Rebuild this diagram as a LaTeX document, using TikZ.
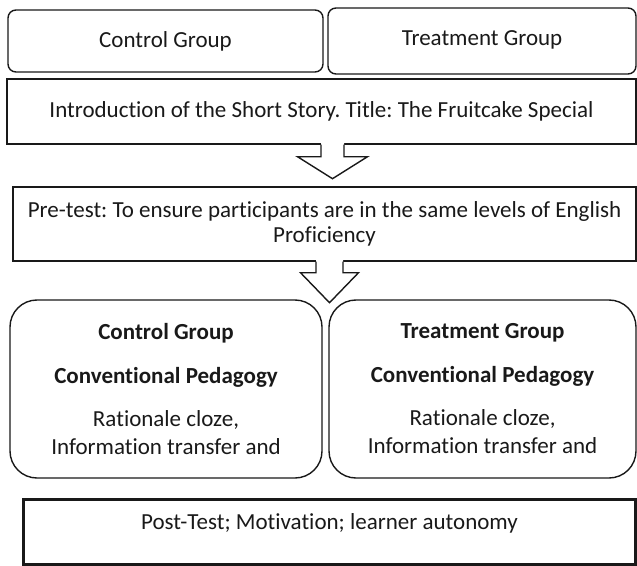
\documentclass[tikz,border=0pt]{standalone}
\usepackage{fontspec}
\setmainfont{Carlito}[Ligatures=NoCommon]
\usetikzlibrary{calc}
\frenchspacing
\begin{document}
\begin{tikzpicture}[x=1bp,y=-1bp,
  every node/.style={font=\fontsize{23bp}{27bp}\selectfont, text=black!90},
  box/.style={draw=black!90, line width=1.4bp, inner sep=0pt, align=center},
  thickbox/.style={draw=black!90, line width=3bp, inner sep=0pt},
  outline/.style={draw=black!90, line width=1.4bp, line join=miter},
  blank/.style={fill=white}]
\useasboundingbox (0,0) rectangle (637,566);

% group headers
\node[box, rounded corners=8bp, minimum width=315bp, minimum height=62bp] (ctrlTop) at (165.5,41)
  {\raisebox{2bp}{Control Group}};
\node[box, rounded corners=8bp, minimum width=308bp, minimum height=66bp] (treatTop) at (482,41)
  {\raisebox{5bp}{Treatment Group}};

% story introduction
\node[box, minimum width=629bp, minimum height=65bp] (intro) at (321.5,111.5)
  {Introduction of the Short Story. Title: The Fruitcake Special};

% pre-test
\node[box, minimum width=623bp, minimum height=74bp,
      font=\fontsize{23bp}{25bp}\selectfont] (pretest) at (324.5,224)
  {Pre-test: To ensure participants are in the same levels of English\\Proficiency};

% teaching conditions
\node[box, rounded corners=27bp, minimum width=312bp, minimum height=178bp] (ctrlBox) at (166,389)
  {\textbf{Control Group}\\[17bp]\textbf{Conventional Pedagogy}\\[16bp]Rationale cloze,\\[1bp]Information transfer and};
\node[box, rounded corners=27bp, minimum width=307bp, minimum height=178bp] (treatBox) at (482.5,389)
  {\textbf{Treatment Group}\\[17bp]\textbf{Conventional Pedagogy}\\[16bp]Rationale cloze,\\[1bp]Information transfer and};

% outcome measures
\node[thickbox, minimum width=611bp, minimum height=65bp] (post) at (329.5,531.5) {};
\node (postText) at ($(post.center)+(0,-8)$) {Post-Test; Motivation; learner autonomy};

% hollow block arrows
\coordinate (a1) at ($(intro.south)+(11,0)$);
\path[blank] ($(a1)+(-11.5,-1.5)$) -- ($(a1)+(-11.5,12)$) -- ($(a1)+(-35,12)$) -- ($(a1)+(0,34)$)
  -- ($(a1)+(35,12)$) -- ($(a1)+(11.5,12)$) -- ($(a1)+(11.5,-1.5)$) -- cycle;
\draw[outline] ($(a1)+(-11.5,0)$) -- ($(a1)+(-11.5,12)$) -- ($(a1)+(-35,12)$) -- ($(a1)+(0,34)$)
  -- ($(a1)+(35,12)$) -- ($(a1)+(11.5,12)$) -- ($(a1)+(11.5,0)$);

\coordinate (a2) at ($(pretest.south)+(5,0)$);
\path[blank] ($(a2)+(-13.5,-1.5)$) -- ($(a2)+(-13.5,11)$) -- ($(a2)+(-29,11)$) -- ($(a2)+(0,41)$)
  -- ($(a2)+(29,11)$) -- ($(a2)+(13.5,11)$) -- ($(a2)+(13.5,-1.5)$) -- cycle;
\draw[outline] ($(a2)+(-13.5,0)$) -- ($(a2)+(-13.5,11)$) -- ($(a2)+(-29,11)$) -- ($(a2)+(0,41)$)
  -- ($(a2)+(29,11)$) -- ($(a2)+(13.5,11)$) -- ($(a2)+(13.5,0)$);
\end{tikzpicture}
\end{document}
